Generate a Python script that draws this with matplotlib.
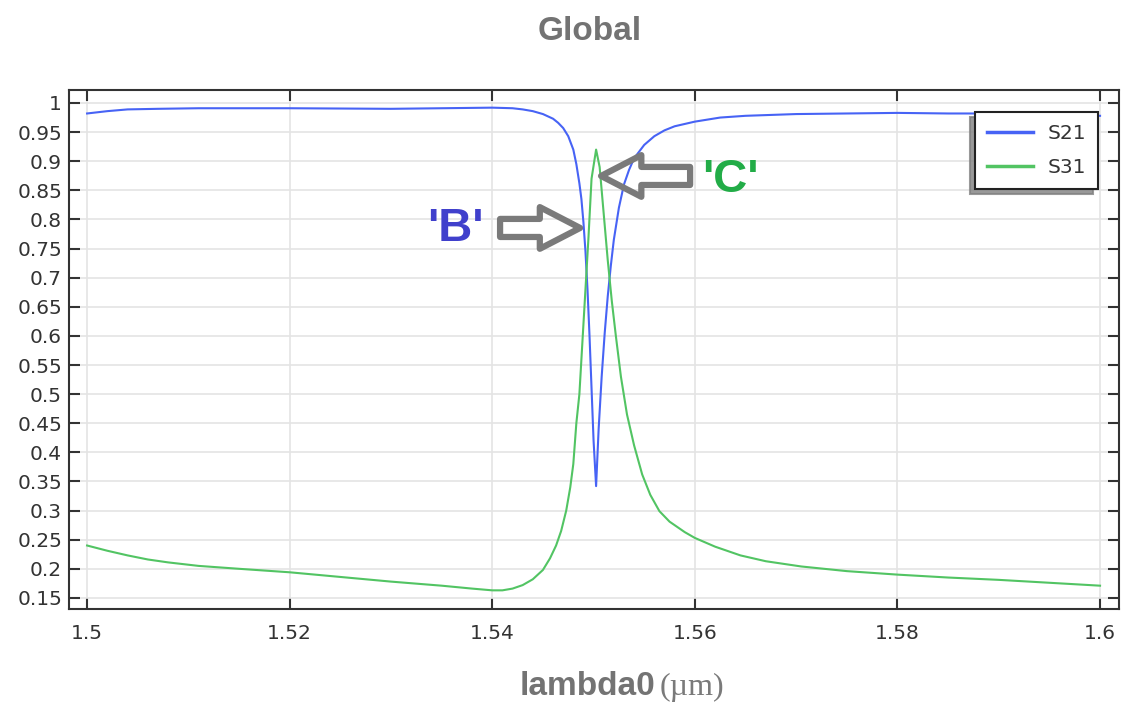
# S-parameter sweep around the ring resonance (COMSOL style "Global" plot)
import matplotlib
matplotlib.use('Agg')
import matplotlib.pyplot as plt
from matplotlib.ticker import MultipleLocator, FuncFormatter

# wavelength (um) and |S21|
lam_s21 = [1.5000, 1.5020, 1.5040, 1.5070, 1.5110, 1.5200, 1.5300, 1.5350,
           1.5400, 1.5420, 1.5430, 1.5440, 1.5450, 1.5460, 1.5465, 1.5470,
           1.5475, 1.5480, 1.5483, 1.5486, 1.5488, 1.5490, 1.5492, 1.5494,
           1.5496, 1.5498, 1.5500, 1.55025, 1.5505, 1.5508, 1.5511, 1.5514,
           1.5517, 1.5520, 1.5525, 1.5530, 1.5535, 1.5540, 1.5550, 1.5560,
           1.5570, 1.5580, 1.5600, 1.5625, 1.5650, 1.5700, 1.5750, 1.5800,
           1.5850, 1.5900, 1.5950, 1.6000]
s21 = [0.982, 0.986, 0.989, 0.990, 0.991, 0.991, 0.990, 0.991,
       0.992, 0.991, 0.989, 0.986, 0.981, 0.973, 0.966, 0.957,
       0.943, 0.920, 0.895, 0.862, 0.835, 0.795, 0.745, 0.680,
       0.600, 0.510, 0.420, 0.342, 0.440, 0.530, 0.605, 0.668,
       0.720, 0.765, 0.820, 0.860, 0.885, 0.905, 0.928, 0.943,
       0.953, 0.960, 0.968, 0.975, 0.978, 0.981, 0.982, 0.983,
       0.982, 0.982, 0.980, 0.978]

# wavelength (um) and |S31|
lam_s31 = [1.5000, 1.5020, 1.5040, 1.5060, 1.5080, 1.5110, 1.5150, 1.5200,
           1.5250, 1.5300, 1.5350, 1.5380, 1.5400, 1.5410, 1.5420, 1.5430,
           1.5440, 1.5450, 1.5457, 1.5463, 1.5468, 1.5473, 1.5477, 1.5480,
           1.5483, 1.5486, 1.5489, 1.5492, 1.5495, 1.5498, 1.55025, 1.5506,
           1.5510, 1.5514, 1.5518, 1.5522, 1.5527, 1.5533, 1.5540, 1.5548,
           1.5556, 1.5565, 1.5575, 1.5590, 1.5600, 1.5620, 1.5645, 1.5670,
           1.5705, 1.5750, 1.5800, 1.5850, 1.5900, 1.5950, 1.6000]
s31 = [0.240, 0.231, 0.223, 0.216, 0.211, 0.205, 0.200, 0.194,
       0.186, 0.178, 0.171, 0.166, 0.163, 0.163, 0.166, 0.172,
       0.182, 0.198, 0.218, 0.240, 0.265, 0.300, 0.340, 0.380,
       0.450, 0.500, 0.590, 0.680, 0.770, 0.870, 0.920, 0.890,
       0.810, 0.730, 0.660, 0.600, 0.530, 0.465, 0.412, 0.362,
       0.327, 0.299, 0.281, 0.263, 0.253, 0.238, 0.223, 0.213,
       0.204, 0.196, 0.190, 0.185, 0.181, 0.176, 0.171]

series_names = ['S21', 'S31']
blue = '#4763f5'
green = '#52c463'
grey = '#7a7a7a'

fig = plt.figure(figsize=(11.21, 7.11), dpi=100)
ax = fig.add_axes([0.0616, 0.1435, 0.9367, 0.7299])

ax.plot(lam_s21, s21, color=blue, lw=1.5, label=series_names[0], zorder=3)
ax.plot(lam_s31, s31, color=green, lw=1.5, label=series_names[1], zorder=3)

ax.set_xlim(1.49822, 1.60188)
ax.set_ylim(0.131, 1.0223)
ax.xaxis.set_major_locator(MultipleLocator(0.02))
ax.yaxis.set_major_locator(MultipleLocator(0.05))
ax.xaxis.set_major_formatter(FuncFormatter(lambda v, p: f'{v:g}'))
ax.yaxis.set_major_formatter(FuncFormatter(lambda v, p: f'{round(v, 2):g}'))
ax.grid(True, color='#e4e4e4', lw=1.2, zorder=0)
ax.tick_params(direction='in', length=8, width=1.5, color='#333333',
               top=True, right=True, labelsize=14.5, labelcolor='#333333')
ax.tick_params(axis='x', pad=11)
ax.tick_params(axis='y', pad=5)
for sp in ax.spines.values():
    sp.set_color('#333333')
    sp.set_linewidth(1.5)

leg = ax.legend(loc='upper right', bbox_to_anchor=(0.980, 0.9576), borderaxespad=0,
                fontsize=14.5, handlelength=2.3, handletextpad=0.7, labelspacing=0.75,
                borderpad=0.6, fancybox=False, framealpha=1, edgecolor='#222222',
                shadow={'ox': -3.5, 'oy': -3.5, 'shade': 0.5, 'alpha': 0.8})
leg.get_frame().set_linewidth(1.5)
for t in leg.get_texts():
    t.set_color('#333333')
for h in leg.get_lines():
    h.set_linewidth(2.5)

# hollow grey block arrows and the point labels
arrow_style = 'simple,head_length=2.9,head_width=3.0,tail_width=1.3'
ax.annotate('', xy=(1.54867, 0.7854), xytext=(1.54077, 0.7854),
            arrowprops=dict(arrowstyle=arrow_style, mutation_scale=10, fc='none',
                            ec=grey, lw=4.5, shrinkA=0, shrinkB=0), zorder=4)
ax.annotate('', xy=(1.55074, 0.8747), xytext=(1.55953, 0.8747),
            arrowprops=dict(arrowstyle=arrow_style, mutation_scale=10, fc='none',
                            ec=grey, lw=4.5, shrinkA=0, shrinkB=0), zorder=4)
ax.text(1.53633, 0.7837, "'B'", color='#4040cc', fontsize=34, fontweight='bold',
        family='Liberation Sans', ha='center', va='center', zorder=5)
ax.text(1.56347, 0.868, "'C'", color='#22ac47', fontsize=34, fontweight='bold',
        family='Liberation Sans', ha='center', va='center', zorder=5)

fig.text(0.5263, 0.956, 'Global', color='#737373', fontsize=24, fontweight='bold',
         family='Liberation Sans', ha='center', va='center')
fig.text(655 / 1121, 0.0225, 'lambda0', color='#737373', fontsize=24, fontweight='bold',
         family='Liberation Sans', ha='right', va='baseline')
fig.text(660 / 1121, 0.0225, '(\u00b5m)', color='#7a7a7a', fontsize=23,
         family='Liberation Serif', ha='left', va='baseline')

plt.savefig('out.png', dpi=100)
